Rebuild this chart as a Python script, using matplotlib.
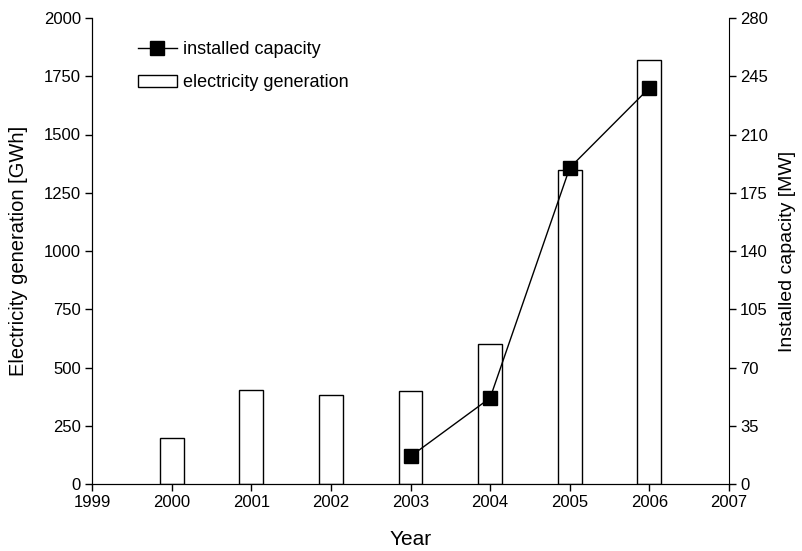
import matplotlib
matplotlib.use("Agg")
import matplotlib.pyplot as plt

plt.rcParams['font.family'] = ['Liberation Sans', 'DejaVu Sans']

gen_years = [2000, 2001, 2002, 2003, 2004, 2005, 2006]
generation = [196, 402, 380, 397, 602, 1346, 1821]
cap_years = [2003, 2004, 2005, 2006]
capacity = [16.6, 51.7, 190, 238]
x_ticks = [1999, 2000, 2001, 2002, 2003, 2004, 2005, 2006, 2007]
left_ticks = [0, 250, 500, 750, 1000, 1250, 1500, 1750, 2000]
right_ticks = [0, 35, 70, 105, 140, 175, 210, 245, 280]

fig = plt.figure(figsize=(8.02, 5.51), dpi=100)
ax = fig.add_axes([92/802, 1-484/551, (729-92)/802, (484-18)/551])
bars = ax.bar(gen_years, generation, width=0.3, facecolor='white',
              edgecolor='black', linewidth=1.0, label='electricity generation', zorder=2)
ax.set_xlim(1999, 2007)
ax.set_ylim(0, 2000)
ax.set_xticks(x_ticks)
ax.set_yticks(left_ticks)
ax.spines['top'].set_visible(False)
ax.spines['right'].set_visible(False)
ax.tick_params(direction='out', length=5, width=1, labelsize=12, colors='black', pad=3)
ax.set_xlabel('Year', fontsize=15, labelpad=14)
ax.set_ylabel('Electricity generation [GWh]', fontsize=14.5, labelpad=11)

ax2 = ax.twinx()
line, = ax2.plot(cap_years, capacity, color='black', linewidth=1.0, marker='s',
                 markersize=10, markerfacecolor='black', label='installed capacity', zorder=3)
ax2.set_ylim(0, 280)
ax2.set_yticks(right_ticks)
ax2.spines['top'].set_visible(False)
ax2.tick_params(direction='out', length=5, width=1, labelsize=12, colors='black', pad=3)
ax2.set_ylabel('Installed capacity [MW]', fontsize=14, labelpad=8)

ax2.legend([line, bars], ['installed capacity', 'electricity generation'],
           loc='upper left', bbox_to_anchor=(0.046, 0.985), frameon=False,
           fontsize=13, handlelength=2.2, handletextpad=0.3, labelspacing=0.9)

fig.savefig('out.png', dpi=100)
